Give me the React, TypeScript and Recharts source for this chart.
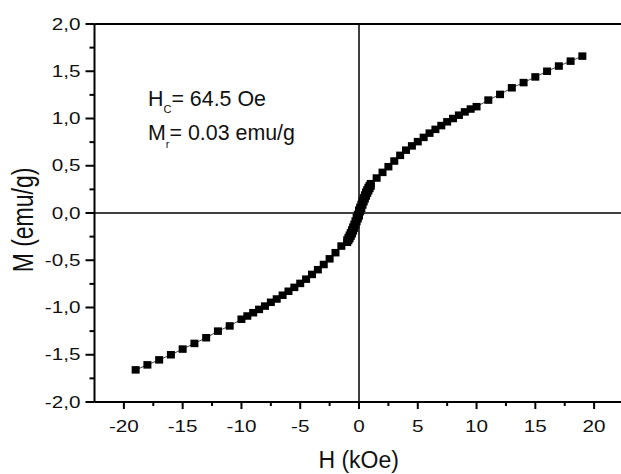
import React from 'react'
import {
  ScatterChart,
  Scatter,
  XAxis,
  YAxis,
  ReferenceLine
} from 'recharts'

// descending branch, H in kOe
const hDown = [
  19, 18, 17, 16, 15, 14, 13, 12, 11, 10, 9.5, 9, 8.5, 8, 7.5, 7, 6.5, 6, 5.5, 5,
  4.5, 4, 3.5, 3, 2.5, 2, 1.5, 1.0, 0.9, 0.8, 0.7, 0.6, 0.5, 0.4, 0.3, 0.2, 0.1, 0,
  -0.1, -0.2, -0.3, -0.4, -0.5, -0.6, -0.7, -0.8, -0.9, -1.0, -1.5, -2, -2.5, -3,
  -3.5, -4, -4.5, -5, -5.5, -6, -6.5, -7, -7.5, -8, -8.5, -9, -9.5, -10, -11, -12,
  -13, -14, -15, -16, -17, -18, -19
]
const mDown = [
  1.66, 1.607, 1.555, 1.5, 1.44, 1.38, 1.325, 1.255, 1.195, 1.125, 1.1, 1.07, 1.035, 1.0, 0.965, 0.925, 0.885, 0.845, 0.8, 0.755,
  0.71, 0.665, 0.61, 0.55, 0.49, 0.43, 0.37, 0.31, 0.29, 0.27, 0.245, 0.22, 0.19, 0.16, 0.125, 0.09, 0.06, 0.03,
  -0.015, -0.05, -0.085, -0.12, -0.15, -0.18, -0.21, -0.235, -0.26, -0.285, -0.35, -0.42, -0.485, -0.545,
  -0.6, -0.65, -0.7, -0.745, -0.787, -0.828, -0.87, -0.91, -0.945, -0.985, -1.02, -1.055, -1.09, -1.124, -1.195, -1.25,
  -1.32, -1.38, -1.44, -1.5, -1.554, -1.607, -1.66
]

// ascending branch near zero field
const hUp = [-1.0, -0.9, -0.8, -0.7, -0.6, -0.5, -0.4, -0.3, -0.2, -0.1, 0, 0.1, 0.2, 0.3, 0.4, 0.5, 0.6, 0.7, 0.8, 0.9, 1.0]
const mUp = [-0.31, -0.29, -0.27, -0.245, -0.22, -0.19, -0.16, -0.125, -0.09, -0.06, -0.03, 0.015, 0.05, 0.085, 0.12, 0.15, 0.18, 0.21, 0.235, 0.26, 0.285]

const xTicks = [-20, -17.5, -15, -12.5, -10, -7.5, -5, -2.5, 0, 2.5, 5, 7.5, 10, 12.5, 15, 17.5, 20]
const yTicks = [-2, -1.75, -1.5, -1.25, -1, -0.75, -0.5, -0.25, 0, 0.25, 0.5, 0.75, 1, 1.25, 1.5, 1.75, 2]

const downData = hDown.map((h, i) => ({ h, m: mDown[i] }))
const upData = hUp.map((h, i) => ({ h, m: mUp[i] }))

const font = '"Liberation Sans", Arial, sans-serif'

const XTick = (props: any) => {
  const { x, y, payload } = props
  const v = payload.value
  const major = v % 5 === 0
  return (
    <g>
      <line x1={x} x2={x} y1={y} y2={y + (major ? 7 : 4)} stroke="#000" strokeWidth={2} />
      {major && (
        <text
          transform={`translate(${x},${y + 29.5}) scale(1.27,1)`}
          textAnchor="middle"
          fontFamily={font}
          fontSize={16.3}
          fill="#111"
        >
          {String(v)}
        </text>
      )}
    </g>
  )
}

const YTick = (props: any) => {
  const { x, y, payload } = props
  const v = payload.value
  const major = Math.abs(v * 2 - Math.round(v * 2)) < 1e-9
  return (
    <g>
      <line x1={x} x2={x - (major ? 9 : 5)} y1={y} y2={y} stroke="#000" strokeWidth={2} />
      {major && (
        <text
          transform={`translate(${x - 14},${y + 5.5}) scale(1.27,1)`}
          textAnchor="end"
          fontFamily={font}
          fontSize={16.3}
          fill="#111"
        >
          {v.toFixed(1).replace('.', ',')}
        </text>
      )}
    </g>
  )
}

const Square = (props: any) => {
  const { cx, cy } = props
  return <rect x={cx - 4} y={cy - 3.75} width={8} height={7.5} fill="#000" />
}

export default function App() {
  return (
    <div style={{ position: 'absolute', left: 0, top: 0, width: 621, height: 474, overflow: 'hidden', background: '#fff' }}>
      <ScatterChart width={640} height={474} margin={{ top: 24, right: 16.5, left: 0, bottom: 0 }}>
        <XAxis
          type="number"
          dataKey="h"
          domain={[-22.5, 22.5]}
          ticks={xTicks}
          interval={0}
          tickSize={0}
          tickMargin={0}
          tickLine={false}
          tick={<XTick />}
          axisLine={{ stroke: '#000', strokeWidth: 2 }}
          height={72}
          allowDataOverflow
        />
        <YAxis
          type="number"
          dataKey="m"
          domain={[-2, 2]}
          ticks={yTicks}
          interval={0}
          tickSize={0}
          tickMargin={0}
          tickLine={false}
          tick={<YTick />}
          axisLine={{ stroke: '#000', strokeWidth: 2 }}
          width={94.5}
          allowDataOverflow
        />
        <ReferenceLine y={2} stroke="#000" strokeWidth={2} />
        <ReferenceLine x={0} stroke="#000" strokeWidth={1.5} />
        <ReferenceLine y={0} stroke="#000" strokeWidth={1.5} />
        <Scatter
          data={downData}
          line={{ stroke: '#444', strokeWidth: 1 }}
          lineType="joint"
          shape={<Square />}
          isAnimationActive={false}
        />
        <Scatter
          data={upData}
          line={{ stroke: '#444', strokeWidth: 1 }}
          lineType="joint"
          shape={<Square />}
          isAnimationActive={false}
        />
      </ScatterChart>
      <svg width={621} height={474} style={{ position: 'absolute', left: 0, top: 0, pointerEvents: 'none' }}>
        <text x={148} y={106} fontFamily={font} fontSize={21.4} fill="#111">
          H<tspan fontSize={11} dy={7.3}>C</tspan><tspan dy={-7.3}>= 64.5 Oe</tspan>
        </text>
        <text x={148} y={140} fontFamily={font} fontSize={21.4} fill="#111">
          M<tspan fontSize={11} dy={8}>r</tspan><tspan dy={-8}>= 0.03 emu/g</tspan>
        </text>
        <text x={358.7} y={468} textAnchor="middle" fontFamily={font} fontSize={23} fill="#111">
          H (kOe)
        </text>
        <text
          transform="translate(33.3,220) scale(1.3,1) rotate(-90)"
          textAnchor="middle"
          fontFamily={font}
          fontSize={23}
          fill="#111"
        >
          M (emu/g)
        </text>
      </svg>
    </div>
  )
}
